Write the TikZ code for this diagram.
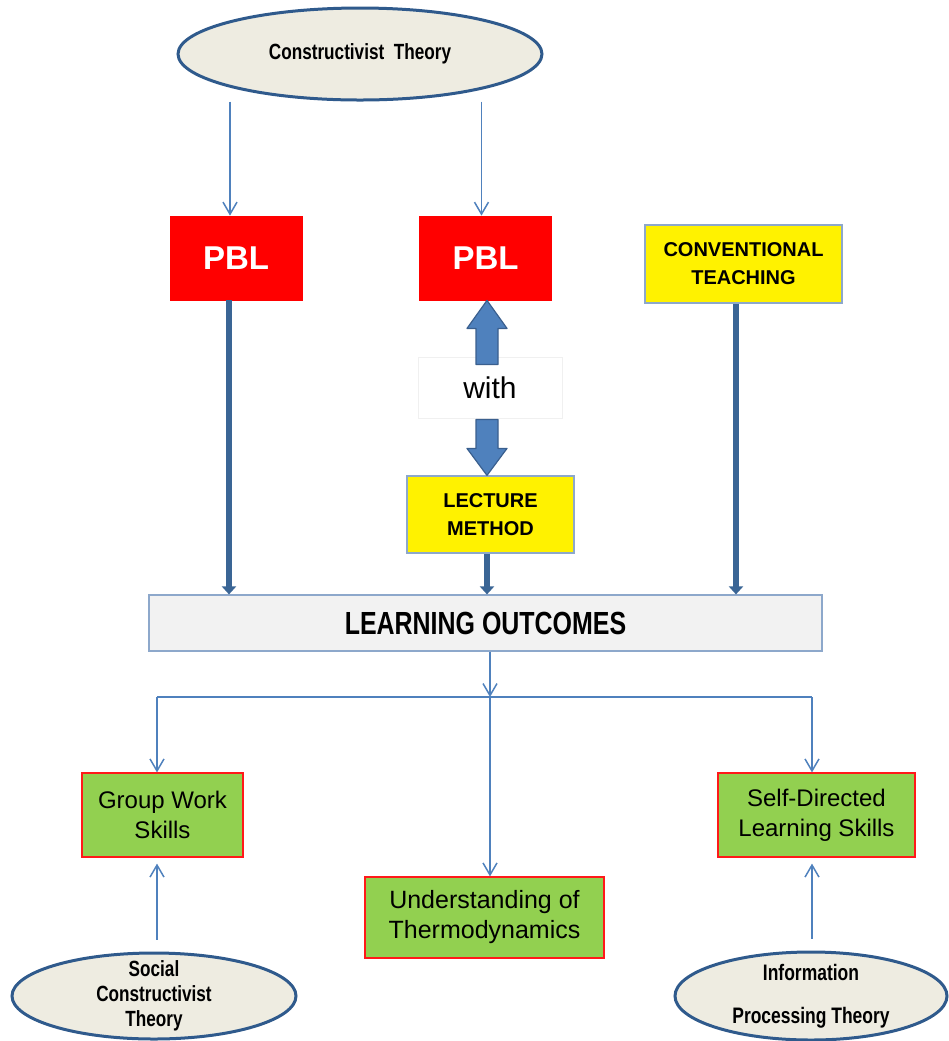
\documentclass[tikz,border=0pt]{standalone}
\usepackage{fontspec}
\setmainfont{Liberation Sans}
\newfontfamily\narrowfont[FakeStretch=0.78]{Liberation Sans}
\usetikzlibrary{arrows.meta,shapes.geometric,calc}

\definecolor{theoryfill}{HTML}{EEECE1}
\definecolor{theoryline}{HTML}{2F5A8C}
\definecolor{linkblue}{HTML}{4F81BD}
\definecolor{mainblue}{HTML}{3A6595}
\definecolor{blockline}{HTML}{3A5F8E}
\definecolor{boxline}{HTML}{8DA8CB}
\definecolor{pblred}{HTML}{FF0000}
\definecolor{skillgreen}{HTML}{92D050}
\definecolor{outfill}{HTML}{F2F2F2}

\begin{document}
\begin{tikzpicture}[
        x=0.5pt, y=-0.5pt,
        theory/.style={
            ellipse, draw=theoryline, line width=1.5pt, fill=theoryfill,
            inner xsep=0pt, inner ysep=-4pt, align=center,
            font=\narrowfont\bfseries\fontsize{11}{12.5}\selectfont
        },
        pbl/.style={draw=pblred, fill=pblred, text=white, inner sep=0pt,
                    minimum width=66pt, minimum height=42pt,
                    font=\bfseries\fontsize{16.5}{18}\selectfont},
        method/.style={draw=boxline, fill=yellow, line width=0.6pt,
                       inner sep=0pt, align=center,
                       font=\bfseries\fontsize{10}{14}\selectfont},
        skill/.style={draw=red!90, fill=skillgreen, line width=0.6pt,
                      inner sep=0pt, align=center,
                      font=\fontsize{12}{15}\selectfont},
        flowline/.style={-{Straight Barb[length=6pt,width=7pt]}, linkblue, line width=0.75pt},
        mainline/.style={-{Triangle[length=4pt,width=7pt]}, mainblue, line width=3pt},
        blockarrow/.style={fill=linkblue, draw=blockline, line width=0.6pt, line join=round}
    ]
    \useasboundingbox (0,0) rectangle (949,1041);

    %% ---- top: theory and the three approaches ----
    \node[theory, minimum width=182pt, minimum height=46pt] (constr) at (360,54)
        {Constructivist\ \ Theory};
    \node[pbl] (pblL) at (236,258) {PBL};
    \node[pbl] (pblC) at (485.5,258) {PBL};
    \node[method, minimum width=98.5pt, minimum height=39pt] (conv) at (743.5,264)
        {CONVENTIONAL\\TEACHING};

    \draw[flowline] ([xshift=-3pt]pblL.north |- constr.south) -- ([xshift=-3pt]pblL.north);
    \draw[flowline] ([xshift=-2pt]pblC.north |- constr.south) -- ([xshift=-2pt]pblC.north);

    %% ---- PBL with lecture method ----
    \node[draw=black!6, fill=white, minimum width=72pt, minimum height=30.5pt,
          inner sep=0pt, font=\fontsize{15}{18}\selectfont] (with) at (490,387.5) {with};
    \node[method, minimum width=83.5pt, minimum height=38.5pt] (lecture) at (490.5,514.5)
        {LECTURE\\METHOD};

    \coordinate (uptip) at ([xshift=0.75pt]pblC.south);
    \coordinate (downtip) at ([xshift=-1.75pt]lecture.north);
    \filldraw[blockarrow] (uptip) -- ++(20,28) -- ++(-9,0) -- ++(0,36)
        -- ++(-22,0) -- ++(0,-36) -- ++(-9,0) -- cycle;
    \filldraw[blockarrow] (downtip) -- ++(20,-27) -- ++(-9,0) -- ++(0,-29)
        -- ++(-22,0) -- ++(0,29) -- ++(-9,0) -- cycle;

    %% ---- learning outcomes ----
    \node[draw=boxline, fill=outfill, line width=0.6pt, minimum width=336.5pt,
          minimum height=28pt, inner sep=0pt,
          font=\narrowfont\bfseries\fontsize{16}{18}\selectfont] (outcomes) at (485.5,623)
        {LEARNING OUTCOMES};

    \draw[mainline] ([xshift=-3.5pt]pblL.south) -- ([xshift=-3.5pt]pblL.south |- outcomes.north);
    \draw[mainline] ([xshift=-1.75pt]lecture.south) -- ([xshift=-1.75pt]lecture.south |- outcomes.north);
    \draw[mainline] ([xshift=-3.75pt]conv.south) -- ([xshift=-3.75pt]conv.south |- outcomes.north);

    %% ---- skills ----
    \node[skill, minimum width=80.5pt, minimum height=42pt] (group) at (162.5,815)
        {Group Work\\Skills};
    \node[skill, minimum width=98.5pt, minimum height=42pt] (selfdir) at (816.5,815)
        {Self-Directed\\Learning Skills};
    \node[skill, minimum width=119.5pt, minimum height=40.5pt,
          font=\fontsize{12.5}{15}\selectfont] (underst) at (484.5,917.5)
        {Understanding of\\Thermodynamics};

    \coordinate (split) at (490,697);
    \coordinate (gl) at (157,697);
    \coordinate (sr) at (812,697);
    \draw[flowline] (outcomes.south -| split) -- (split);
    \draw[linkblue, line width=0.75pt] (gl) -- (sr);
    \draw[flowline] (gl) -- (gl |- group.north);
    \draw[flowline] (sr) -- (sr |- selfdir.north);
    \draw[flowline] (split) -- (split |- underst.north);

    %% ---- bottom theories ----
    \node[theory, minimum width=142pt, minimum height=43pt] (social) at (154,996)
        {Social\\Constructivist\\Theory};
    \node[theory, minimum width=136pt, minimum height=44pt,
          font=\narrowfont\bfseries\fontsize{11.2}{21.5}\selectfont] (info) at (811,996)
        {Information\\Processing Theory};

    \draw[flowline] ([yshift=6pt]gl |- social.north) -- ([yshift=-3pt]gl |- group.south);
    \draw[flowline] ([yshift=6pt]sr |- info.north) -- ([yshift=-3pt]sr |- selfdir.south);
\end{tikzpicture}
\end{document}
